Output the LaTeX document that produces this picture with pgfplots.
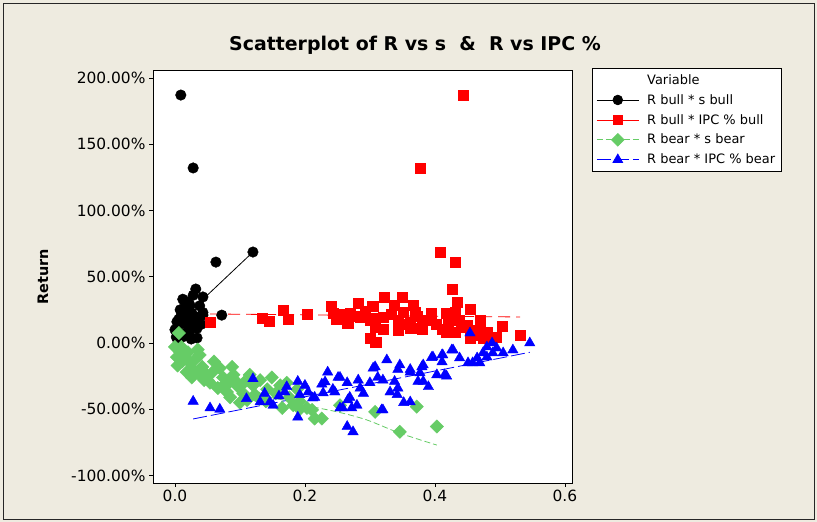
\documentclass[border=0pt]{standalone}
\usepackage{fontspec}
\setmainfont{DejaVu Sans}
\usepackage{pgfplots}
\pgfplotsset{compat=1.18}
\definecolor{bgbeige}{RGB}{238,235,224}
\definecolor{mgreen}{RGB}{102,204,102}
\definecolor{mblue}{RGB}{0,0,255}
\definecolor{mred}{RGB}{255,0,0}
\begin{document}
\begin{tikzpicture}[x=1bp,y=1bp]
\fill[bgbeige] (0,0) rectangle (817,522);
\draw[black!85, line width=0.8bp] (3,3) rectangle (814,519);
\node[font=\bfseries\fontsize{19}{22}\selectfont] at (415,477) {Scatterplot of R vs s \ \& \ R vs IPC \%};
\node[rotate=90, font=\bfseries\fontsize{14.5}{17}\selectfont] at (43,245.5) {Return};
\begin{axis}[at={(153bp,39bp)}, anchor=south west, scale only axis,
  width=419bp, height=413bp,
  xmin=-0.0338, xmax=0.611, ymin=-105.6, ymax=205.9,
  axis background/.style={fill=white},
  axis line style={black, line width=0.8bp},
  tick align=outside, xtick pos=bottom, ytick pos=left, major tick length=4bp,
  tick style={black, line width=0.6bp},
  xtick={0,0.2,0.4,0.6}, ytick={-100,-50,0,50,100,150,200},
  /pgf/number format/assume math mode=true,
  xticklabel style={/pgf/number format/.cd, fixed, fixed zerofill, precision=1},
  yticklabel={\pgfmathprintnumber[fixed,fixed zerofill,precision=2]{\tick}\%},
  tick label style={font=\fontsize{15.5}{18}\selectfont},
  legend style={at={(1.0477,1.0048)}, anchor=north west, draw=black, line width=0.8bp, fill=white,
    font=\fontsize{13}{15}\selectfont, row sep=4.6bp, inner xsep=4bp, inner ysep=4bp},
  legend cell align=left,
  legend image code/.code={\draw[mark repeat=2,mark phase=2] plot coordinates {(0bp,0bp)(21bp,0bp)(42bp,0bp)};},
]
% black: R bull * s bull
\addplot[only marks, mark=*, mark size=5.3bp, mark options={draw=black, fill=black}, forget plot] table {
x y
0.009 187
0.028 132
0.063 61
0.12 68.6
0.032 40.7
0.043 34.7
0.028 36
0.015 31
0.023 28.6
0.043 23
0.072 21
0.008 25
0.012 19.6
0.028 17
0.003 16
0.034 11
0.034 3.8
0.000 10
0.020 12
0.008 7.5
0.002 4.5
0.043 21
0.026 22.6
0.018 26
0.005 13
0.015 15
0.030 20
0.010 21
0.022 8
0.005 1
0.038 28
0.012 33
0.017 18
0.024 14
0.035 16
0.020 31
0.006 18
0.014 5
0.025 3
0.040 14
};
\addplot[black, line width=0.8bp, forget plot] coordinates {(0.0,13) (0.12,68.6)};
% red: R bull * IPC % bull
\addplot[mred, line width=0.8bp, dash pattern=on 12bp off 6bp, forget plot] coordinates {(0.054,21.9) (0.531,19.6)};
\addplot[only marks, mark=square*, mark size=5bp, mark options={draw=mred, fill=mred}, forget plot] table {
x y
0.054 16
0.135 19
0.145 16.6
0.166 25
0.174 18
0.203 21.9
0.240 28
0.243 22.6
0.254 19.6
0.269 22.6
0.266 15
0.282 30
0.303 28
0.285 19.6
0.300 17
0.308 12
0.300 3.8
0.310 0.8
0.408 68.6
0.432 61
0.426 40.7
0.435 31
0.454 25.6
0.322 34.7
0.349 34.7
0.305 28
0.337 28.6
0.366 28.6
0.320 19.6
0.351 23
0.369 23
0.395 22.6
0.418 22.6
0.431 23
0.305 19
0.343 17
0.362 16
0.380 13.6
0.420 16
0.438 17
0.449 13.6
0.320 10.6
0.343 9.8
0.365 11.3
0.380 10.6
0.411 10.6
0.431 8.3
0.458 9.8
0.469 12
0.480 8.3
0.503 12.8
0.494 4.5
0.531 6
0.454 3.8
0.474 3.8
0.308 0.8
0.418 8.3
0.443 187
0.377 132
0.265 15
0.362 11
0.258 22
0.277 20
0.292 24
0.248 18
0.332 22
0.355 14
0.372 20
0.390 17
0.402 14
0.460 6
0.485 2
0.440 12
0.470 17
};
% green: R bear * s bear
\addplot[only marks, mark=square*, mark size=4.7bp, mark options={rotate=45, draw=mgreen, fill=mgreen}, forget plot] table {
x y
0.006 7.5
0.000 -3
0.008 -6.8
0.003 -10.6
0.015 -10.6
0.038 -9
0.023 -15
0.011 -14
0.028 -20
0.042 -18
0.018 -22
0.026 -26
0.049 -24
0.069 -19
0.088 -18
0.054 -30
0.074 -26
0.066 -34
0.080 -37
0.092 -28
0.097 -33
0.085 -41
0.105 -38
0.115 -24
0.120 -32
0.131 -28
0.149 -26
0.111 -43
0.123 -39
0.142 -35
0.162 -32
0.165 -49
0.182 -47
0.203 -49
0.215 -57
0.211 -50.5
0.226 -57
0.308 -52
0.372 -48
0.346 -67
0.403 -63
0.254 -47
0.192 -50
0.188 -35
0.172 -30
0.192 -44
0.035 -5
0.060 -14
0.045 -28
0.100 -45
0.130 -42
0.155 -38
0.010 -3
0.032 -12
0.075 -32
0.090 -24
0.004 -17
0.020 -7
0.036 -23
0.058 -22
0.083 -30
0.106 -30
0.140 -44
0.176 -41
};
\addplot[mgreen, line width=0.8bp, dash pattern=on 6bp off 3bp, smooth, forget plot] coordinates {
(0.003,-3) (0.03,-18) (0.06,-28) (0.1,-36) (0.166,-43) (0.2,-47) (0.25,-52) (0.295,-58) (0.346,-68) (0.403,-77)};
% blue: R bear * IPC % bear
\addplot[mblue, line width=0.8bp, dash pattern=on 14bp off 4bp, forget plot] coordinates {(0.028,-57.3) (0.546,-7)};
\addplot[only marks, mark=triangle*, mark size=6bp, mark options={draw=mblue, fill=mblue}, forget plot] table {
x y
0.028 -44
0.054 -49
0.069 -50
0.120 -27
0.138 -38
0.146 -44.5
0.131 -44.5
0.151 -47
0.169 -37
0.189 -29
0.192 -39
0.205 -37
0.215 -41
0.189 -56
0.172 -33
0.231 -29.4
0.228 -37.7
0.212 -41.5
0.251 -26
0.246 -37
0.265 -30
0.282 -28
0.269 -41
0.254 -49
0.272 -49
0.265 -63
0.274 -67
0.285 -34
0.300 -30
0.305 -19
0.326 -12.8
0.318 -50.5
0.320 -28
0.331 -37
0.338 -29
0.343 -20
0.362 -20
0.362 -44.5
0.377 -22.6
0.382 -29
0.395 -11
0.403 -24
0.412 -9
0.415 -24
0.346 -16.6
0.362 -22
0.343 -34
0.380 -18
0.374 -29
0.411 -9
0.426 -5.3
0.438 -11.3
0.411 -14.3
0.418 -25
0.454 7.5
0.451 -15
0.465 -11.3
0.480 -3
0.488 0
0.489 -7.5
0.474 -7.5
0.469 -15
0.495 -3.8
0.505 -7.5
0.520 -5.3
0.546 0
0.480 -10.6
0.458 -15
0.320 -50.5
0.243 -35
0.254 -26
0.266 -43
0.258 -49
0.308 -18
0.312 -26
0.342 -39
0.382 -16.6
0.397 -10.6
0.428 -5.3
0.200 -32
0.226 -31
0.235 -22
0.290 -38
0.280 -47
0.352 -45
0.390 -33
0.110 -42
0.160 -40
};
% legend
\addlegendimage{empty legend}
\addlegendentry{\hspace{6bp}Variable}
\addlegendimage{black, line width=0.8bp, mark=*, mark size=4.8bp, mark options={solid, fill=black}}
\addlegendentry{\hspace{6bp}R bull * s bull}
\addlegendimage{mred, line width=0.8bp, mark=square*, mark size=4.6bp, mark options={solid, fill=mred}}
\addlegendentry{\hspace{6bp}R bull * IPC \% bull}
\addlegendimage{mgreen, line width=0.8bp, dash pattern=on 6bp off 3bp, mark=square*, mark size=4.4bp, mark options={solid, rotate=45, fill=mgreen}}
\addlegendentry{\hspace{6bp}R bear * s bear}
\addlegendimage{mblue, line width=0.8bp, dash pattern=on 14bp off 4bp, mark=triangle*, mark size=5.6bp, mark options={solid, fill=mblue}}
\addlegendentry{\hspace{6bp}R bear * IPC \% bear\hspace{18bp}}
\end{axis}
\end{tikzpicture}
\end{document}
